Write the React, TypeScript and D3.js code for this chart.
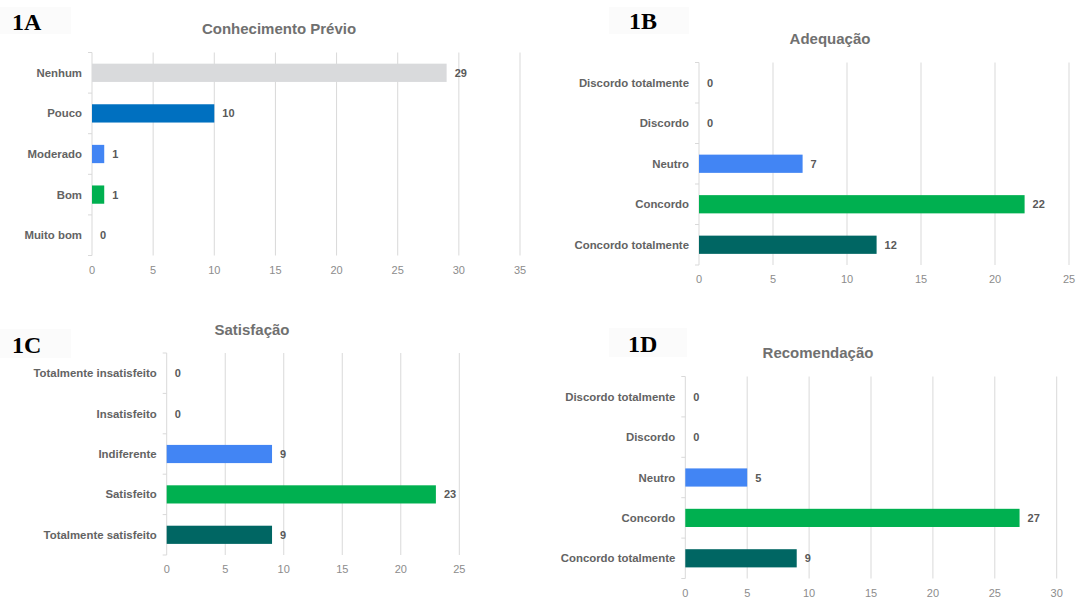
import React from "react";
import * as d3 from "d3";

// ---------- data ----------
const catsA = ["Nenhum", "Pouco", "Moderado", "Bom", "Muito bom"];
const valsA = [29, 10, 1, 1, 0];
const ticksA = [0, 5, 10, 15, 20, 25, 30, 35];

const catsB = ["Discordo totalmente", "Discordo", "Neutro", "Concordo", "Concordo totalmente"];
const valsB = [0, 0, 7, 22, 12];
const ticksB = [0, 5, 10, 15, 20, 25];

const catsC = ["Totalmente insatisfeito", "Insatisfeito", "Indiferente", "Satisfeito", "Totalmente satisfeito"];
const valsC = [0, 0, 9, 23, 9];
const ticksC = [0, 5, 10, 15, 20, 25];

const catsD = ["Discordo totalmente", "Discordo", "Neutro", "Concordo", "Concordo totalmente"];
const valsD = [0, 0, 5, 27, 9];
const ticksD = [0, 5, 10, 15, 20, 25, 30];

const titles = ["Conhecimento Prévio", "Adequação", "Satisfação", "Recomendação"];
const panelTags = ["1A", "1B", "1C", "1D"];

// ---------- styles ----------
const colorsA = ["#D9DADC", "#0070C0", "#4285F4", "#00B050", "#00B050"];
const colorsLikert = ["#4285F4", "#4285F4", "#4285F4", "#00B050", "#006663"];

type Layout = {
  x0: number; x1: number; top: number; bottom: number;
  titleX: number; titleY: number;
  tagX: number; tagY: number; boxX: number; boxY: number; boxW: number; boxH: number;
};

const layouts: Layout[] = [
  { x0: 92, x1: 520, top: 52.5, bottom: 255.5, titleX: 279, titleY: 34, tagX: 12, tagY: 30, boxX: 0, boxY: 7, boxW: 71, boxH: 27 },
  { x0: 699, x1: 1069, top: 62.5, bottom: 265, titleX: 830, titleY: 43.5, tagX: 629, tagY: 29, boxX: 609, boxY: 7, boxW: 80, boxH: 27 },
  { x0: 166.7, x1: 459.3, top: 353, bottom: 555, titleX: 252, titleY: 335, tagX: 12, tagY: 353, boxX: 0, boxY: 329, boxW: 71, boxH: 29 },
  { x0: 685.3, x1: 1056.7, top: 376.5, bottom: 578.5, titleX: 818, titleY: 358, tagX: 628, tagY: 352, boxX: 609, boxY: 328, boxW: 78, boxH: 29 },
];

const FONT = "Liberation Sans, Arial, Helvetica, sans-serif";

function Panel({ cats, vals, ticks, colors, title, tag, L }: {
  cats: string[]; vals: number[]; ticks: number[]; colors: string[]; title: string; tag: string; L: Layout;
}) {
  const x = d3.scaleLinear().domain([0, ticks[ticks.length - 1]]).range([L.x0, L.x1]);
  const y = d3.scaleBand<string>().domain(cats).range([L.top, L.bottom]).paddingInner(0).paddingOuter(0);
  const step = y.step();
  const barH = step * 0.45;
  const boundaries = d3.range(cats.length + 1).map((i) => L.top + i * step);
  return (
    <g>
      <rect x={L.boxX} y={L.boxY} width={L.boxW} height={L.boxH} fill="#fbfbfb" />
      <text x={L.tagX} y={L.tagY} fontFamily="Liberation Serif, Times New Roman, serif" fontWeight="bold" fontSize={24} fill="#000">
        {tag}
      </text>
      <text x={L.titleX} y={L.titleY} textAnchor="middle" fontFamily={FONT} fontWeight="bold" fontSize={15} fill="#707070">
        {title}
      </text>
      {ticks.map((t) => (
        <line key={"g" + t} x1={x(t)} x2={x(t)} y1={L.top} y2={L.bottom} stroke="#D9D9D9" strokeWidth={1} />
      ))}
      {boundaries.map((b, i) => (
        <line key={"t" + i} x1={L.x0 - 4} x2={L.x0} y1={b} y2={b} stroke="#D9D9D9" strokeWidth={1} />
      ))}
      {ticks.map((t) => (
        <text key={"l" + t} x={x(t)} y={L.bottom + 14} textAnchor="middle" dominantBaseline="central" fontFamily={FONT} fontSize={11} fill="#8C8C8C">
          {t}
        </text>
      ))}
      {cats.map((c, i) => {
        const cy = (y(c) as number) + step / 2;
        return (
          <g key={c}>
            {vals[i] > 0 && (
              <rect x={x(0)} y={cy - barH / 2} width={x(vals[i]) - x(0)} height={barH} fill={colors[i]} />
            )}
            <text x={L.x0 - 10} y={cy} textAnchor="end" dominantBaseline="central" fontFamily={FONT} fontWeight="bold" fontSize={11.4} fill="#636363">
              {c}
            </text>
            <text x={x(vals[i]) + 8} y={cy} dominantBaseline="central" fontFamily={FONT} fontWeight="bold" fontSize={11} fill="#595959">
              {vals[i]}
            </text>
          </g>
        );
      })}
    </g>
  );
}

export default function App() {
  return (
    <svg width={1076} height={597} style={{ position: "absolute", left: 0, top: 0, background: "#fff" }}>
      <rect x={0} y={0} width={1076} height={597} fill="#fff" />
      <Panel cats={catsA} vals={valsA} ticks={ticksA} colors={colorsA} title={titles[0]} tag={panelTags[0]} L={layouts[0]} />
      <Panel cats={catsB} vals={valsB} ticks={ticksB} colors={colorsLikert} title={titles[1]} tag={panelTags[1]} L={layouts[1]} />
      <Panel cats={catsC} vals={valsC} ticks={ticksC} colors={colorsLikert} title={titles[2]} tag={panelTags[2]} L={layouts[2]} />
      <Panel cats={catsD} vals={valsD} ticks={ticksD} colors={colorsLikert} title={titles[3]} tag={panelTags[3]} L={layouts[3]} />
    </svg>
  );
}
